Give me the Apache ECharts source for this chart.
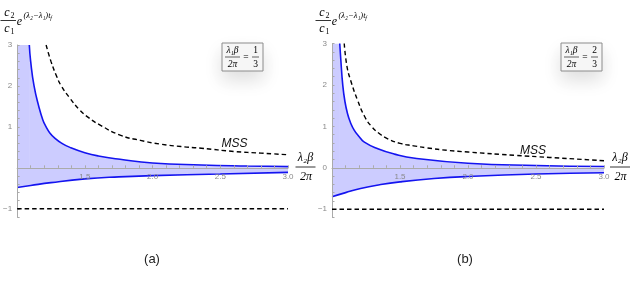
<!DOCTYPE html>
<html><head><meta charset="utf-8">
<script src="https://cdn.jsdelivr.net/npm/echarts@6/dist/echarts.min.js"></script>
<style>html,body{margin:0;padding:0;background:#fff}#c{width:632px;height:283px}</style>
</head><body><div id="c"></div>
<script>
// ---- data ----
const xMin = 1, xMax = 3;
const yMin = -1.2, yMax = 3;
const xTickLabels = [1.5, 2.0, 2.5, 3.0];
const yTickLabelsA = [-1, 1, 2, 3];
const yTickLabelsB = [-1, 0, 1, 2, 3];
const panelLabels = ['(a)', '(b)'];
const ratioA = ['1', '3'];
const ratioB = ['2', '3'];
const mssLabel = 'MSS';

const upperA = [[1.09,3.0],[1.10,2.6],[1.125,2.0],[1.16,1.5],[1.19,1.17],[1.214,1.0],[1.24,0.86],[1.28,0.72],[1.33,0.6],[1.39,0.5],[1.5,0.37],[1.6,0.29],[1.76,0.21],[2.0,0.12],[2.36,0.07],[2.7,0.045],[3.0,0.03]];
const lowerA = [[1.0,-0.48],[1.1,-0.43],[1.25,-0.36],[1.5,-0.27],[1.75,-0.22],[2.0,-0.19],[2.5,-0.15],[3.0,-0.11]];
const mssA = [[1.214,3.0],[1.25,2.6],[1.29,2.25],[1.326,2.0],[1.39,1.7],[1.463,1.41],[1.53,1.22],[1.61,1.05],[1.76,0.80],[1.91,0.67],[2.06,0.58],[2.21,0.52],[2.36,0.48],[2.6,0.40],[2.8,0.36],[3.0,0.32]];
const minusOneA = [[1.0,-1],[3.0,-1]];

const upperB = [[1.057,3.0],[1.065,2.6],[1.079,2.0],[1.095,1.6],[1.114,1.31],[1.135,1.1],[1.163,0.91],[1.2,0.75],[1.238,0.62],[1.337,0.46],[1.46,0.33],[1.61,0.23],[2.0,0.11],[2.5,0.055],[3.0,0.03]];
const lowerB = [[1.0,-0.70],[1.1,-0.60],[1.21,-0.50],[1.35,-0.41],[1.5,-0.34],[1.75,-0.26],[2.0,-0.21],[2.5,-0.15],[3.0,-0.12]];
const mssB = [[1.09,3.0],[1.11,2.45],[1.138,2.1],[1.188,1.63],[1.238,1.25],[1.29,1.0],[1.35,0.82],[1.41,0.70],[1.5,0.59],[1.6,0.53],[1.7,0.48],[1.85,0.42],[2.0,0.38],[2.35,0.30],[2.6,0.25],[3.0,0.17]];
const minusOneB = [[1.0,-1],[3.0,-1]];

// ---- styling ----
const BLUE = '#1414f0';
const FILL = 'rgba(0,0,255,0.2)';
const AX = '#aaaaaa';
const TICKC = '#8a8a8a';
const SERIF = "'Liberation Serif','DejaVu Serif',serif";
const SANS = "'Liberation Sans','DejaVu Sans',sans-serif";

const grids = [
  {left: 17, top: 45, width: 271, height: 172},
  {left: 332, top: 43.5, width: 272, height: 174}
];

function near(v, list){ return list.find(t => Math.abs(t - v) < 1e-6); }

function xAxisFor(i){
  return {
    type: 'value', gridIndex: i, min: xMin, max: xMax, interval: 0.1, z: 3,
    axisLine: {onZero: true, lineStyle: {color: AX, width: 1}},
    axisTick: {inside: true, length: 2.5, lineStyle: {color: AX}},
    splitLine: {show: false},
    axisLabel: {show: false}
  };
}
function yAxisFor(i, labels){
  return {
    type: 'value', gridIndex: i, min: yMin, max: yMax, interval: 0.2, z: 3,
    axisLine: {show: true, onZero: false, lineStyle: {color: AX, width: 1}},
    axisTick: {show: true, inside: true, length: 2.5, lineStyle: {color: AX}},
    splitLine: {show: false},
    axisLabel: {fontSize: 8, color: TICKC, margin: 5, fontFamily: SANS,
      formatter: v => { const t = near(v, labels); return t === undefined ? '' : (t < 0 ? '\u2212' + Math.abs(t) : String(t)); }}
  };
}

function panelSeries(i, upper, lower, mss, m1){
  const base = {type: 'line', xAxisIndex: i, yAxisIndex: i, showSymbol: false, symbol: 'none', animation: false};
  return [
    Object.assign({}, base, {data: [[xMin, yMax], [upper[0][0], yMax]], lineStyle: {width: 0}, areaStyle: {color: FILL, opacity: 1}, z: 1}),
    Object.assign({}, base, {data: upper, smooth: 0.5, lineStyle: {color: BLUE, width: 1.6}, areaStyle: {color: FILL, opacity: 1}, z: 2}),
    Object.assign({}, base, {data: lower, smooth: 0.5, lineStyle: {color: BLUE, width: 1.6}, areaStyle: {color: FILL, opacity: 1}, z: 2}),
    Object.assign({}, base, {data: mss, smooth: 0.5, lineStyle: {color: '#000', width: 1.4, type: [4.5, 3]}, z: 4}),
    Object.assign({}, base, {data: m1, lineStyle: {color: '#000', width: 1.4, type: [4.5, 3]}, z: 4})
  ];
}

function T(x, y, text, font, color, align){
  return {type: 'text', x: x, y: y, z: 10, style: {text: text, font: font, fill: color || '#000', align: align || 'center', verticalAlign: 'middle'}};
}
function L(x1, y1, x2, y2, w){
  return {type: 'line', z: 10, shape: {x1: x1, y1: y1, x2: x2, y2: y2}, style: {stroke: '#000', lineWidth: w || 0.8}};
}

function yLabel(ox){
  return [
    T(ox+7, 13, 'c', 'italic 12px ' + SERIF),
    T(ox+12.5, 16, '2', '8px ' + SERIF),
    L(ox+0.5, 20.5, ox+16, 20.5, 0.8),
    T(ox+7, 28.5, 'c', 'italic 12px ' + SERIF),
    T(ox+12.5, 31.5, '1', '8px ' + SERIF),
    T(ox+19.5, 22, 'e', 'italic 12px ' + SERIF),
    T(ox+23.5, 16, '(\u03bb\u2082\u2212\u03bb\u2081)t', 'italic 8.5px ' + SERIF, '#000', 'left'),
    T(ox+51, 18, 'f', 'italic 6px ' + SERIF)
  ];
}
function xLabel(cx){
  return [
    T(cx, 158, '\u03bb\u2082\u03b2', 'italic 12px ' + SERIF),
    L(cx-10, 167, cx+10, 167, 0.8),
    T(cx+0.5, 177, '2\u03c0', 'italic 12px ' + SERIF)
  ];
}
function ratioBox(bx, by, ratio){
  return [
    {type: 'rect', z: 9, shape: {x: bx, y: by, width: 41, height: 28},
     style: {fill: '#f7f7f7', stroke: '#8c8c8c', lineWidth: 1, shadowBlur: 18, shadowOffsetY: 9, shadowColor: 'rgba(0,0,0,0.13)'}},
    T(bx+10.5, by+7.5, '\u03bb\u2081\u03b2', 'italic 9.5px ' + SERIF),
    L(bx+3, by+14, bx+18, by+14, 0.6),
    T(bx+10.5, by+21, '2\u03c0', 'italic 9.5px ' + SERIF),
    T(bx+24, by+14, '=', '9.5px ' + SERIF),
    T(bx+33.5, by+7.5, ratio[0], '9.5px ' + SERIF),
    L(bx+30, by+14, bx+37, by+14, 0.6),
    T(bx+33.5, by+21, ratio[1], '9.5px ' + SERIF)
  ];
}

const baseGraphic = [].concat(
  yLabel(0), yLabel(315),
  xLabel(305.5), xLabel(620),
  ratioBox(222, 43, ratioA), ratioBox(561, 43, ratioB),
  [T(234.5, 143.5, mssLabel, 'italic 12px ' + SANS, '#111'),
   T(533, 150.5, mssLabel, 'italic 12px ' + SANS, '#111'),
   T(152, 259, panelLabels[0], '13px ' + SANS, '#222'),
   T(465, 259, panelLabels[1], '13px ' + SANS, '#222')]
);

const chart = echarts.init(document.getElementById('c'), null, {renderer: 'canvas'});
chart.setOption({
  animation: false,
  backgroundColor: '#fff',
  grid: grids,
  xAxis: [xAxisFor(0), xAxisFor(1)],
  yAxis: [yAxisFor(0, yTickLabelsA), yAxisFor(1, yTickLabelsB)],
  series: [].concat(
    panelSeries(0, upperA, lowerA, mssA, minusOneA),
    panelSeries(1, upperB, lowerB, mssB, minusOneB)
  ),
  graphic: baseGraphic
});

// x tick labels placed just below the zero line, positioned through the axes
const tickGraphic = [];
[0, 1].forEach(i => {
  xTickLabels.forEach(v => {
    const p = chart.convertToPixel({xAxisIndex: i, yAxisIndex: i}, [v, 0]);
    tickGraphic.push(T(p[0], p[1] + 9, v.toFixed(1), '8px ' + SANS, TICKC));
  });
});
chart.setOption({graphic: baseGraphic.concat(tickGraphic)});
</script>
</body></html>
